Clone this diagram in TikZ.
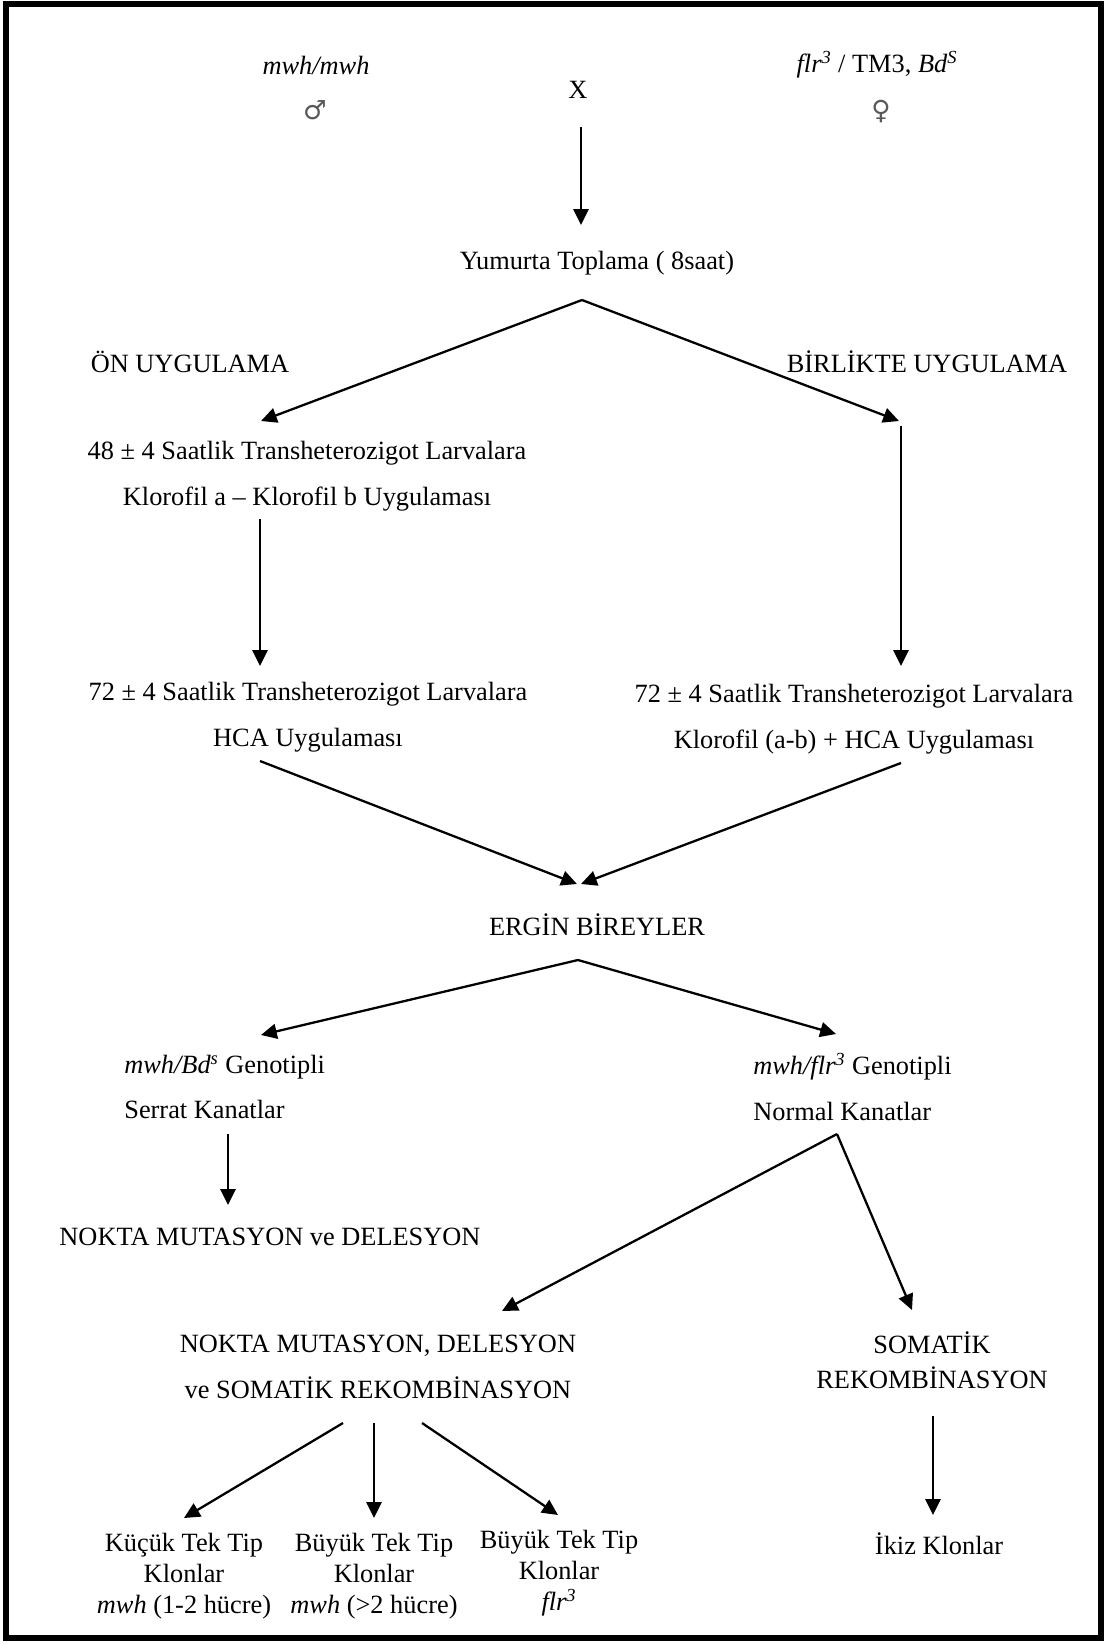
\documentclass[tikz,border=0pt]{standalone}
\usepackage{fontspec}
\setmainfont{Liberation Serif}
\newfontfamily\symfont{DejaVu Sans}
\usetikzlibrary{arrows.meta}
\begin{document}
\begin{tikzpicture}[x=0.02cm,y=-0.02cm,>={Triangle[width=8.5pt,length=9pt]},
  every node/.style={font=\fontsize{15}{26}\selectfont,inner sep=0pt,align=center},
  ok/.style={->,line width=1.3pt}]
\useasboundingbox (0,0) rectangle (1107,1644);
\draw[line width=3pt] (6,4) rectangle (1101,1638);
% parents
\node (mwh) at (316,65) {\textit{mwh/mwh}};
\node[text=black!65] (male) at (315,110) {\symfont ♂};
\node (cross) at (578,90) {X};
\node (flr) at (877,65) {\textit{flr\textsuperscript{3}} / TM3, \textit{Bd\textsuperscript{S}}};
\node[text=black!65] (female) at (881,112) {\symfont ♀};
\node (yum) at (597,263) {Yumurta Toplama ( 8saat)};
\node (onu) at (190,362) {ÖN UYGULAMA};
\node (biru) at (927,362) {BİRLİKTE UYGULAMA};
% treatments
\node (on48) at (307,476) {48 ± 4 Saatlik Transheterozigot Larvalara\\Klorofil a – Klorofil b Uygulaması};
\node (on72) at (308,717) {72 ± 4 Saatlik Transheterozigot Larvalara\\HCA Uygulaması};
\node (bir72) at (854,719) {72 ± 4 Saatlik Transheterozigot Larvalara\\Klorofil (a-b) + HCA Uygulaması};
\node (ergin) at (597,925) {ERGİN BİREYLER};
\node[anchor=west,align=left] (serrat) at (124,1087) {\textit{mwh/Bd\textsuperscript{s}} Genotipli\\Serrat Kanatlar};
\node[anchor=west,align=left] (normal) at (753,1087) {\textit{mwh/flr\textsuperscript{3}} Genotipli\\Normal Kanatlar};
\node (nokta) at (270,1237) {NOKTA MUTASYON ve DELESYON};
\node (noktasom) at (378,1367) {NOKTA MUTASYON, DELESYON\\ve SOMATİK REKOMBİNASYON};
\node[font=\fontsize{15}{20}\selectfont] (somatik) at (932,1360) {SOMATİK\\REKOMBİNASYON};
% clones
\node[font=\fontsize{15}{17.6}\selectfont] (kucuk) at (184,1576) {Küçük Tek Tip\\Klonlar\\\textit{mwh} (1-2 hücre)};
\node[font=\fontsize{15}{17.6}\selectfont] (buyuk) at (374,1576) {Büyük Tek Tip\\Klonlar\\\textit{mwh} (>2 hücre)};
\node[font=\fontsize{15}{17.6}\selectfont] (buyukflr) at (559,1573) {Büyük Tek Tip\\Klonlar\\\textit{flr\textsuperscript{3}}};
\node (ikiz) at (939,1544) {İkiz Klonlar};
% arrow ends
\coordinate (crossFoot) at (581,127);   \coordinate (yumHead) at (581,225);
\coordinate (yumApex) at (582,300);
\coordinate (onHead) at (261,421);      \coordinate (birHead) at (899,421);
\coordinate (on48Foot) at (260,519);    \coordinate (on72Head) at (260,666);
\coordinate (birFoot) at (901,426);     \coordinate (bir72Head) at (901,666);
\coordinate (on72Foot) at (260,761);    \coordinate (bir72Foot) at (901,763);
\coordinate (erginHeadL) at (577,884);  \coordinate (erginHeadR) at (581,884);
\coordinate (erginApex) at (578,960);
\coordinate (serratHead) at (261,1035); \coordinate (normalHead) at (836,1034);
\coordinate (serratFoot) at (228,1134); \coordinate (noktaHead) at (228,1205);
\coordinate (normalApex) at (837,1134);
\coordinate (noktasomHead) at (502,1311); \coordinate (somatikHead) at (912,1310);
\coordinate (nsL) at (343,1423); \coordinate (nsM) at (374,1423); \coordinate (nsR) at (422,1423);
\coordinate (kucukHead) at (184,1518); \coordinate (buyukHead) at (374,1518); \coordinate (flrHead) at (558,1515);
\coordinate (somatikFoot) at (933,1416); \coordinate (ikizHead) at (933,1515);
% connectors
\draw[ok] (crossFoot) -- (yumHead);
\draw[ok] (yumApex) -- (onHead);
\draw[ok] (yumApex) -- (birHead);
\draw[ok] (on48Foot) -- (on72Head);
\draw[ok] (birFoot) -- (bir72Head);
\draw[ok] (on72Foot) -- (erginHeadL);
\draw[ok] (bir72Foot) -- (erginHeadR);
\draw[ok] (erginApex) -- (serratHead);
\draw[ok] (erginApex) -- (normalHead);
\draw[ok] (serratFoot) -- (noktaHead);
\draw[ok] (normalApex) -- (noktasomHead);
\draw[ok] (normalApex) -- (somatikHead);
\draw[ok] (nsL) -- (kucukHead);
\draw[ok] (nsM) -- (buyukHead);
\draw[ok] (nsR) -- (flrHead);
\draw[ok] (somatikFoot) -- (ikizHead);
\end{tikzpicture}
\end{document}
